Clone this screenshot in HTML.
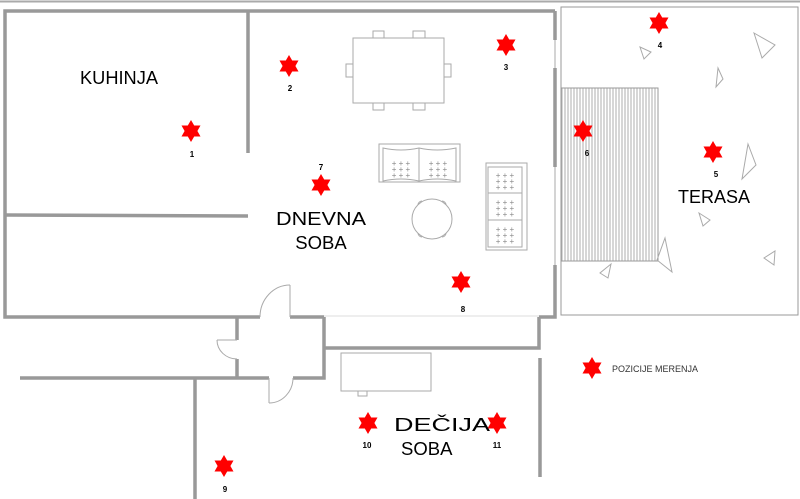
<!DOCTYPE html>
<html><head><meta charset="utf-8"><style>
html,body{margin:0;padding:0;background:#fff;width:800px;height:499px;overflow:hidden}
svg{display:block}
text{font-family:"Liberation Sans",sans-serif}
</style></head><body>
<svg width="800" height="499" viewBox="0 0 800 499" xmlns="http://www.w3.org/2000/svg">
<defs>
<polygon id="st" points="0,-11 3.2,-5.5 9.5,-5.5 6.4,0 9.5,5.5 3.2,5.5 0,11 -3.2,5.5 -9.5,5.5 -6.4,0 -9.5,-5.5 -3.2,-5.5" fill="#f00"/>
<pattern id="hatch" width="3" height="10" patternUnits="userSpaceOnUse"><rect width="3" height="10" fill="#fff"/><line x1="1" y1="0" x2="1" y2="10" stroke="#999" stroke-width="0.8"/></pattern>
</defs>
<line x1="0" y1="1.5" x2="800" y2="1.5" stroke="#aaa" stroke-width="2"/>
<g stroke="#999" stroke-width="3.5" fill="none">
<polyline points="555,11 5,11 5,317 260,317"/>
<line x1="290" y1="317" x2="324" y2="317"/>
<polyline points="539,317 555,317 555,265"/>
<line x1="555" y1="167" x2="555" y2="68"/>
<line x1="555" y1="40" x2="555" y2="11"/>
<line x1="248" y1="11" x2="248" y2="153"/>
<line x1="5" y1="215" x2="248" y2="216"/>
<line x1="237" y1="317" x2="237" y2="340"/>
<line x1="237" y1="359" x2="237" y2="378"/>
<polyline points="20,378 269,378"/>
<polyline points="293,378 324,378 324,317"/>
<polyline points="324,348 539,348 539,317"/>
<line x1="540" y1="358" x2="540" y2="477"/>
<line x1="195" y1="378" x2="195" y2="499"/>
</g>
<g stroke="#aaa" stroke-width="1" fill="none">
<line x1="555" y1="40" x2="555" y2="68"/>
<line x1="555" y1="167" x2="555" y2="265"/>
<line x1="324" y1="316" x2="539" y2="316" stroke="#ddd"/>
<line x1="290" y1="285" x2="290" y2="317"/>
<path d="M260,317 A30,32 0 0 1 290,285"/>
<line x1="217" y1="340" x2="237" y2="340"/>
<path d="M237,359 A20,19 0 0 1 217,340"/>
<line x1="269" y1="378" x2="269" y2="403"/>
<path d="M269,403 A24,25 0 0 0 293,378"/>
<rect x="561" y="7" width="237" height="308" stroke="#999"/>
<rect x="561" y="88" width="97" height="173" fill="url(#hatch)" stroke="#999"/>
<polygon points="640,47 651,52 644,59"/>
<polygon points="754,33 775,45 762,58"/>
<polygon points="718,68 723,79 716,87"/>
<polygon points="748,144 756,165 742,179"/>
<polygon points="699,213 710,220 703,226"/>
<polygon points="665,238 672,272 657,260"/>
<polygon points="775,251 774,265 764,258"/>
<polygon points="611,264 608,278 600,273"/>
<rect x="353" y="38" width="91" height="65"/>
<rect x="373" y="31" width="11" height="7"/><rect x="413" y="31" width="12" height="7"/>
<rect x="373" y="103" width="11" height="7"/><rect x="413" y="103" width="12" height="7"/>
<rect x="346" y="64" width="7" height="13"/><rect x="444" y="64" width="7" height="13"/>
<rect x="379" y="144" width="81" height="38"/>
<path d="M383,181 L383,148 Q401,152 419,148 Q437,152 456,148 L456,181 Q437,177 419,181 Q401,177 383,181 Z M419,148 L419,181"/>
<rect x="486" y="163" width="41" height="87"/>
<path d="M488,167 L522,167 L522,247 L488,247 Z M488,193 L522,193 M488,220 L522,220"/>
<circle cx="432" cy="219" r="20"/>
<path d="M418,205 a4,4 0 0 1 4,-4 M442,201 a4,4 0 0 1 4,4 M418,233 a4,4 0 0 0 4,4 M442,237 a4,4 0 0 0 4,-4"/>
<rect x="341" y="353" width="90" height="38"/>
<rect x="358" y="391" width="9" height="5"/>
</g>
<g fill="#888" font-size="8" text-anchor="middle">
<text x="401" y="166">+ + +</text><text x="401" y="172">+ + +</text><text x="401" y="178">+ + +</text>
<text x="438" y="166">+ + +</text><text x="438" y="172">+ + +</text><text x="438" y="178">+ + +</text>
<text x="505" y="178">+ + +</text><text x="505" y="184">+ + +</text><text x="505" y="190">+ + +</text>
<text x="505" y="205">+ + +</text><text x="505" y="211">+ + +</text><text x="505" y="217">+ + +</text>
<text x="505" y="232">+ + +</text><text x="505" y="238">+ + +</text><text x="505" y="244">+ + +</text>
</g>
<use href="#st" x="191" y="131"/><use href="#st" x="289" y="66"/><use href="#st" x="506" y="45"/>
<use href="#st" x="659" y="23"/><use href="#st" x="713" y="152"/><use href="#st" x="583" y="131"/>
<use href="#st" x="321" y="185"/><use href="#st" x="461" y="282"/><use href="#st" x="224" y="466"/>
<use href="#st" x="368" y="423"/><use href="#st" x="497" y="423"/><use href="#st" x="592" y="368"/>
<g font-size="8" font-weight="bold" text-anchor="middle" fill="#000">
<text x="192" y="157">1</text><text x="290" y="91">2</text><text x="506" y="70">3</text>
<text x="660" y="48">4</text><text x="716" y="177">5</text><text x="587" y="156">6</text>
<text x="321" y="170">7</text><text x="463" y="312">8</text><text x="225" y="492">9</text>
<text x="367" y="448">10</text><text x="497" y="448">11</text>
</g>
<g font-size="18.5" fill="#000">
<text x="80" y="84" textLength="78" lengthAdjust="spacingAndGlyphs">KUHINJA</text>
<text x="276" y="225" textLength="90" lengthAdjust="spacingAndGlyphs">DNEVNA</text>
<text x="321" y="249" text-anchor="middle">SOBA</text>
<text x="678" y="203" textLength="72" lengthAdjust="spacingAndGlyphs">TERASA</text>
<text x="394" y="431" textLength="96" lengthAdjust="spacingAndGlyphs">DEČIJA</text>
<text x="401" y="455">SOBA</text>
</g>
<text x="612" y="372" font-size="9" fill="#333">POZICIJE MERENJA</text>
</svg>
</body></html>
